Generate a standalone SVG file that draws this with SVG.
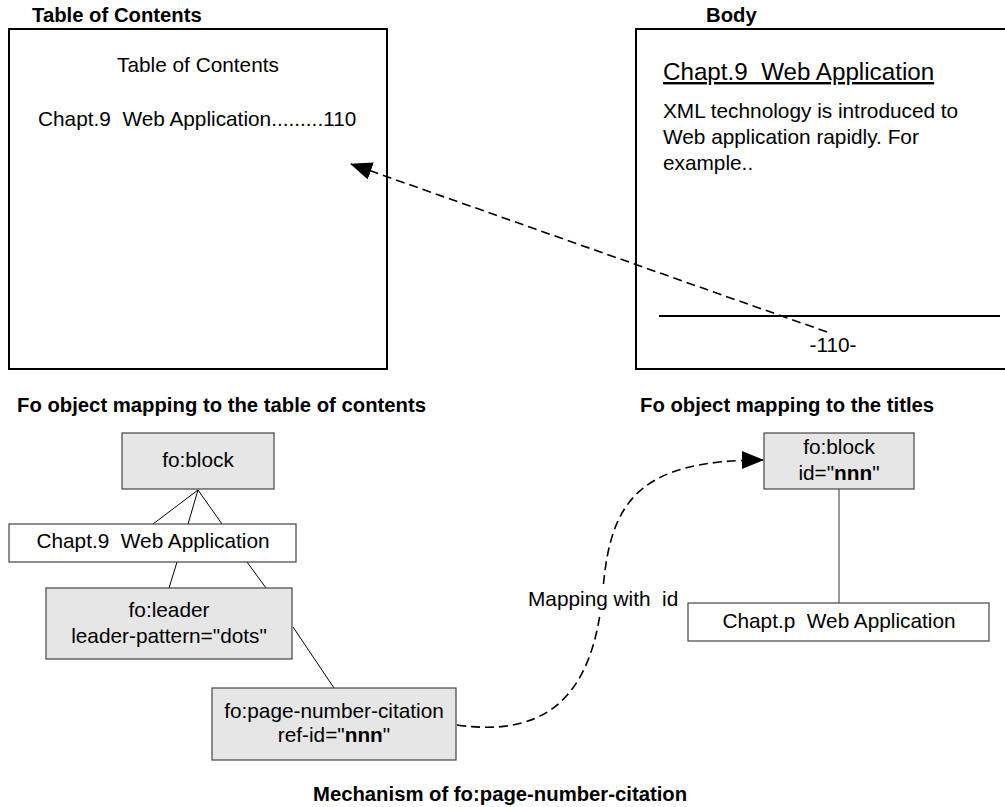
<svg xmlns="http://www.w3.org/2000/svg" width="1005" height="807" viewBox="0 0 1005 807" xml:space="preserve">
<defs>
<style>
text{font-family:"Liberation Sans",Arial,sans-serif;font-size:20.8px;fill:#000;white-space:pre}
.t{font-weight:bold;font-size:20.3px}
.c{text-anchor:middle}
.page{fill:#fff;stroke:#000;stroke-width:2}
.g{fill:#e6e6e6;stroke:#444;stroke-width:1.2}
.w{fill:#fff;stroke:#444;stroke-width:1.2}
.ln{stroke:#000;stroke-width:1;fill:none}
.gl{stroke:#555;stroke-width:1.2;fill:none}
.d{stroke:#000;stroke-width:1.6;fill:none;stroke-dasharray:9 5}
</style>
<marker id="ah" viewBox="0 0 22 18" refX="21" refY="9" markerWidth="22" markerHeight="18" markerUnits="userSpaceOnUse" orient="auto">
<path d="M0,0 L22,9 L0,18 z" fill="#000"/>
</marker>
</defs>
<rect width="1005" height="807" fill="#fff"/>

<g id="toc-page">
<text class="t" x="32" y="22">Table of Contents</text>
<rect class="page" x="9" y="29" width="378" height="340"/>
<text class="c" x="198" y="72">Table of Contents</text>
<text x="38" y="126">Chapt.9  Web Application.........110</text>
</g>

<g id="body-page">
<text class="t" x="706" y="22">Body</text>
<rect class="page" x="636" y="29" width="390" height="340"/>
<text x="663" y="80" style="font-size:24.2px;text-decoration:underline">Chapt.9  Web Application</text>
<text x="663" y="118">XML technology is introduced to</text>
<text x="663" y="144">Web application rapidly. For</text>
<text x="663" y="170">example..</text>
<line x1="659" y1="316" x2="1000" y2="316" stroke="#000" stroke-width="2"/>
<text class="c" x="833" y="352">-110-</text>
</g>

<g id="captions">
<text class="t" x="17" y="412">Fo object mapping to the table of contents</text>
<text class="t" x="640" y="412">Fo object mapping to the titles</text>
<text class="t" x="313" y="801">Mechanism of fo:page-number-citation</text>
</g>

<g id="connectors">
<line class="ln" x1="198" y1="490" x2="153" y2="524"/>
<line class="ln" x1="198" y1="490" x2="188" y2="524"/>
<line class="ln" x1="198" y1="490" x2="222" y2="524"/>
<line class="ln" x1="177" y1="562" x2="169" y2="588"/>
<line class="ln" x1="247" y1="562" x2="266" y2="588"/>
<line class="ln" x1="293" y1="627" x2="334" y2="688"/>
<line class="gl" x1="839" y1="489" x2="839" y2="603"/>
<path class="d" d="M827,332 L351,164" marker-end="url(#ah)"/>
<path class="d" d="M457,725 C560,740 595,680 603,590 C610,500 640,460 763,460" marker-end="url(#ah)"/>
<rect x="526" y="589" width="152" height="24" fill="#fff"/>
<text x="528" y="606">Mapping with  id</text>
</g>

<g id="n-foblock">
<rect class="g" x="122" y="433" width="152" height="56"/>
<text class="c" x="198" y="467">fo:block</text>
</g>
<g id="n-chapt9">
<rect class="w" x="9" y="524" width="287" height="38"/>
<text class="c" x="153" y="548">Chapt.9  Web Application</text>
</g>
<g id="n-leader">
<rect class="g" x="46" y="588" width="246" height="71"/>
<text class="c" x="169" y="617">fo:leader</text>
<text class="c" x="169" y="643">leader-pattern="dots"</text>
</g>
<g id="n-citation">
<rect class="g" x="212" y="688" width="244" height="72"/>
<text class="c" x="334" y="718">fo:page-number-citation</text>
<text class="c" x="334" y="742">ref-id="<tspan font-weight="bold">nnn</tspan>"</text>
</g>
<g id="n-foblock-id">
<rect class="g" x="764" y="433" width="150" height="56"/>
<text class="c" x="839" y="454">fo:block</text>
<text class="c" x="839" y="480">id="<tspan font-weight="bold">nnn</tspan>"</text>
</g>
<g id="n-chaptp">
<rect class="w" x="688" y="603" width="301" height="38"/>
<text class="c" x="839" y="628">Chapt.p  Web Application</text>
</g>
</svg>
